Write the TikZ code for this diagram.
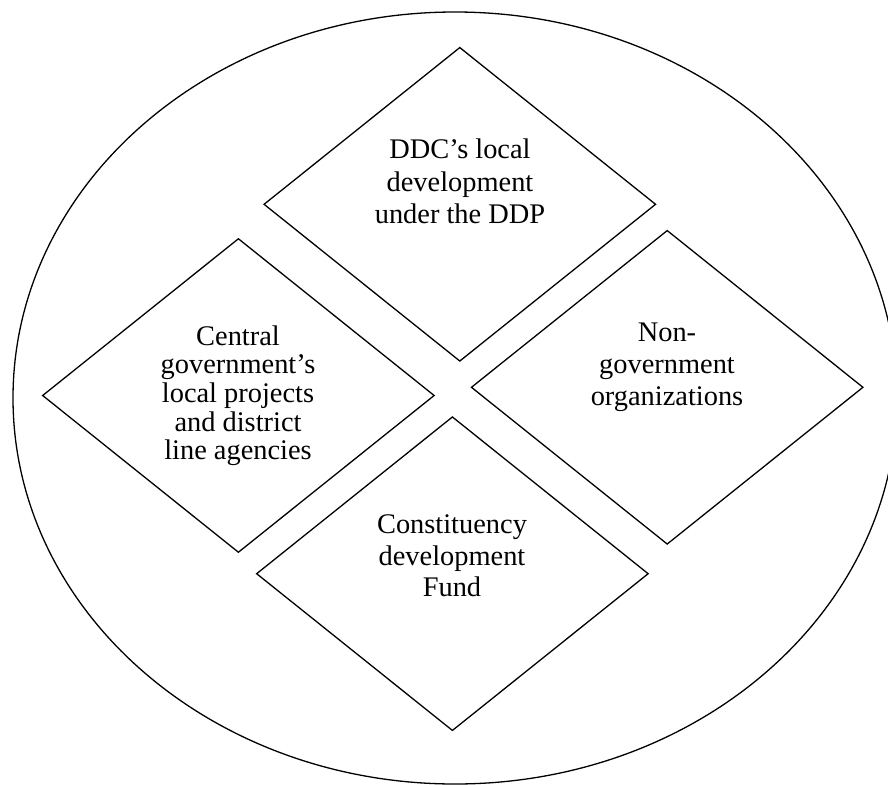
\documentclass[tikz,border=0pt]{standalone}
\usepackage{fontspec}
\setmainfont{Liberation Serif}
\usetikzlibrary{shapes.geometric}

\tikzset{
  outline/.style={draw=black, line width=1.3pt},
  rhombus/.style={outline, shape=diamond, inner sep=0pt,
    minimum width=392pt, minimum height=314pt},
  caption/.style={inner sep=0pt, anchor=base,
    font=\fontsize{28.4pt}{#1}\selectfont},
}

\begin{document}
\begin{tikzpicture}[x=1pt, y=-1pt]
  \useasboundingbox (0,0) rectangle (888,784);
  \clip (0,0) rectangle (888,784);

  % enclosing ellipse
  \node[outline, shape=ellipse, inner sep=0pt,
        minimum width=884pt, minimum height=772pt] (field) at (455,398) {};

  % the four sources of local development
  \node[rhombus] (ddc)   at (459.8,204.3) {};
  \node[rhombus] (cgov)  at (238.4,395.5) {};
  \node[rhombus] (ngo)   at (667.2,387.3) {};
  \node[rhombus] (cdf)   at (452.4,573.7) {};

  % labels (anchored on the baseline of their first line)
  \node[caption=32.8pt] (ddclabel) at (460,158.3)
    {\begin{tabular}[t]{@{}c@{}}DDC’s local\\development\\under the DDP\end{tabular}};
  \node[caption=28.7pt] (cgovlabel) at (238,345)
    {\begin{tabular}[t]{@{}c@{}}Central\\government’s\\local projects\\and district\\line agencies\end{tabular}};
  \node[caption=32.3pt] (ngolabel) at (667,341)
    {\begin{tabular}[t]{@{}c@{}}Non-\\government\\organizations\end{tabular}};
  \node[caption=31.7pt] (cdflabel) at (452,533.3)
    {\begin{tabular}[t]{@{}c@{}}Constituency\\development\\Fund\end{tabular}};
\end{tikzpicture}
\end{document}
